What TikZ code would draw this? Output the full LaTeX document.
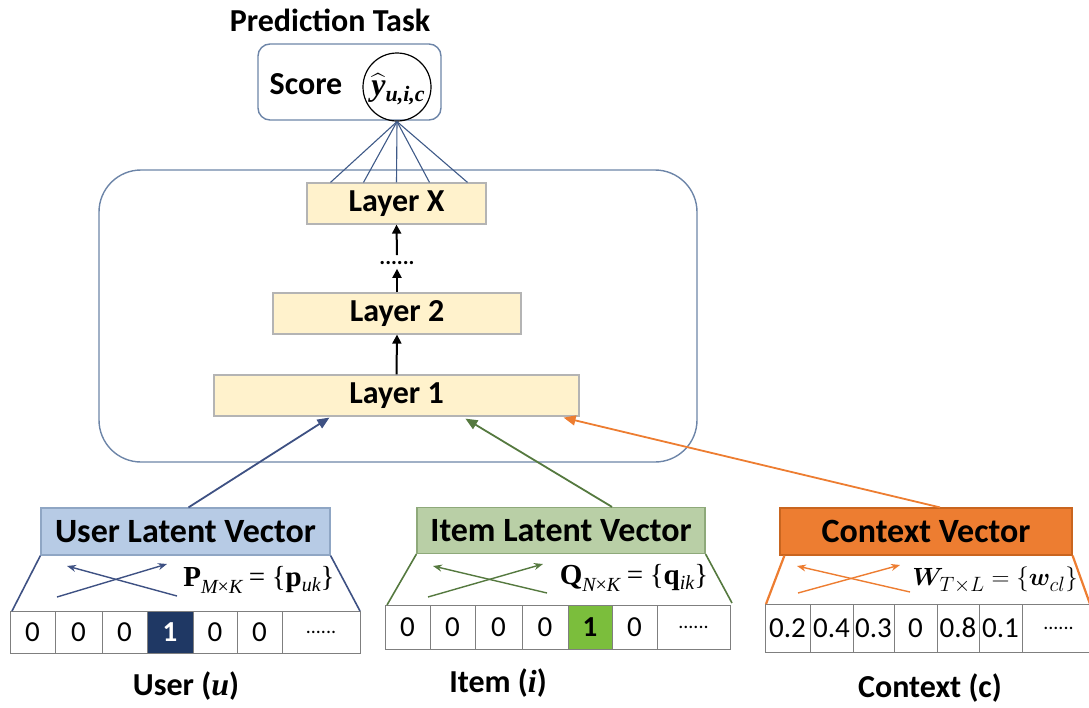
\documentclass[tikz,border=0pt]{standalone}
\usepackage{amsmath,bm}
\usepackage[no-math]{fontspec}
\setmainfont{Carlito}
\newfontfamily\serifface{Liberation Serif}
\usetikzlibrary{calc,arrows.meta}

\definecolor{frameblue}{HTML}{6D85A8}
\definecolor{fanblue}{HTML}{3F5A88}
\definecolor{layerfill}{HTML}{FFF2CC}
\definecolor{layerdraw}{HTML}{B4B4B4}
\definecolor{userfill}{HTML}{B7CBE5}
\definecolor{userdraw}{HTML}{8FA6C4}
\definecolor{userdark}{HTML}{3E5183}
\definecolor{navycell}{HTML}{1F3864}
\definecolor{itemfill}{HTML}{B9CFA6}
\definecolor{itemdraw}{HTML}{8EA97A}
\definecolor{itemdark}{HTML}{55793F}
\definecolor{greencell}{HTML}{7BBE3C}
\definecolor{ctxorange}{HTML}{ED7D31}
\definecolor{ctxdraw}{HTML}{C9651F}
\definecolor{cellgray}{HTML}{7F7F7F}

% serif pieces of the formulas
\newcommand{\serB}[1]{{\serifface\bfseries #1}}
\newcommand{\serI}[1]{{\serifface\itshape #1}}
\newcommand{\serBI}[1]{{\serifface\bfseries\itshape #1}}

\tikzset{
  big/.style={font=\fontsize{32}{32}\selectfont\bfseries},
  veclabel/.style={font=\fontsize{34}{34}\selectfont\bfseries},
  layerbox/.style={draw=layerdraw, fill=layerfill, line width=1.2pt, minimum height=41pt, inner sep=0pt, big},
  vecbox/.style={line width=1.2pt, minimum height=47pt, minimum width=289pt, inner sep=0pt, veclabel},
  cellbase/.style={draw=cellgray, line width=1pt, inner sep=0pt, font=\fontsize{29}{29}\selectfont},
  cellplain/.style={cellbase},
  cellnavy/.style={cellbase, fill=navycell, text=white, font=\fontsize{29}{29}\selectfont\bfseries},
  cellgreen/.style={cellbase, fill=greencell, font=\fontsize{29}{29}\selectfont\bfseries},
  upar/.style={line width=2pt, -{Triangle[length=9pt,width=9pt]}},
  inar/.style={line width=1.8pt, -{Triangle[length=12pt,width=10pt]}},
  crossar/.style={line width=1.4pt, -{Stealth[length=9pt,width=7pt]}},
  fan/.style={draw=fanblue, line width=1.1pt},
  formula/.style={font=\fontsize{29}{29}\selectfont, inner sep=0pt},
}

\begin{document}
\begin{tikzpicture}[x=1pt,y=-1pt]
\useasboundingbox (0,0) rectangle (1089,707);

% prediction part
\node[big] (task) at (330,20) {Prediction Task};
\draw[frameblue, line width=1.4pt, rounded corners=12pt] (258,44) rectangle (441,120);
\node[big, inner sep=0pt] (score) at (306,84) {Score};
\node[draw=black, line width=1.2pt, circle, minimum size=68pt, inner sep=0pt] (yhat) at (397,87) {};
\node[inner sep=0pt, font=\fontsize{32}{32}\selectfont] (yval) at (398,89)
  {$\widehat{\text{\serBI{y}}}$\raisebox{-6pt}{\fontsize{22}{22}\selectfont\serBI{u,i,c}}};

% hidden layers
\draw[frameblue, line width=1.4pt, rounded corners=42pt] (99,170) rectangle (697,462);
\node[layerbox, minimum width=179pt] (lx) at (396.5,203.5) {Layer X};
\node[layerbox, minimum width=248pt] (l2) at (397,313.5) {Layer 2};
\node[layerbox, minimum width=365pt] (l1) at (396.5,395.5) {Layer 1};
\node[font=\fontsize{22}{22}\selectfont\bfseries, inner sep=0pt] (dots) at (397,263) {......};

\draw[upar] (l1.north) -- (l2.south);
\draw[upar] (l2.north) -- ($(dots.south)+(0,4)$);
\draw[upar] ($(dots.north)+(0,-6)$) -- (lx.south);

\foreach \dx in {-66,-33,0,33,71}
  \draw[fan] (yhat.south) -- ($(lx.north)+(\dx,0)$);

% user input
\node[vecbox, draw=userdraw, fill=userfill] (user) at (185.5,531.5) {User Latent Vector};
\foreach \a/\b/\t/\s in {10/55/0/cellplain, 55/102/0/cellplain, 102/147/0/cellplain,
    147/193/1/cellnavy, 193/237/0/cellplain, 237/282/0/cellplain,
    282/360/{\fontsize{20}{20}\selectfont ......}/cellplain}
  \node[\s, minimum width={(\b-\a)*1pt}, minimum height=42pt] at ({(\a+\b)/2},632) {\t};
\draw[userdark, line width=1.6pt] (user.south west) -- (12,611);
\draw[userdark, line width=1.6pt] (user.south east) -- (360,611);
\draw[crossar, userdark] (57,597) -- (167,564);
\draw[crossar, userdark] (177,596) -- (67,566);
\node[formula] (pform) at (259,580) {\serB{P}\raisebox{-7pt}{\fontsize{20}{20}\selectfont\serI{M}{\serifface×}\serI{K}} {\serifface=} {\serifface\{}\serB{p}\raisebox{-5pt}{\fontsize{20}{20}\selectfont\serI{uk}}{\serifface\}}};
\node[big] (ulab) at (186,686) {User (\serBI{u})};

% item input
\node[vecbox, draw=itemdraw, fill=itemfill, minimum width=288pt, minimum height=46pt] (item) at (561,530.5) {Item Latent Vector};
\foreach \a/\b/\t/\s in {385/430/0/cellplain, 430/475/0/cellplain, 475/522/0/cellplain,
    522/568/0/cellplain, 568/612/1/cellgreen, 612/657/0/cellplain,
    657/730/{\fontsize{20}{20}\selectfont ......}/cellplain}
  \node[\s, minimum width={(\b-\a)*1pt}, minimum height=44pt] at ({(\a+\b)/2},627) {\t};
\draw[itemdark, line width=1.6pt] (item.south west) -- (387,605);
\draw[itemdark, line width=1.6pt] (item.south east) -- (732,603);
\draw[crossar, itemdark] (428,597) -- (543,564);
\draw[crossar, itemdark] (547,593) -- (433,566);
\node[formula] (qform) at (634,578) {\serB{Q}\raisebox{-7pt}{\fontsize{20}{20}\selectfont\serI{N}{\serifface×}\serI{K}} {\serifface=} {\serifface\{}\serB{q}\raisebox{-5pt}{\fontsize{20}{20}\selectfont\serI{ik}}{\serifface\}}};
\node[big] (ilab) at (498,683) {Item (\serBI{i})};

% context input
\node[vecbox, draw=ctxdraw, fill=ctxorange, minimum width=292pt] (ctx) at (926,531.5) {Context Vector};
\foreach \a/\b/\t/\s in {765/810/0.2/cellplain, 810/853/0.4/cellplain, 853/894/0.3/cellplain,
    894/937/0/cellplain, 937/979/0.8/cellplain, 979/1022/0.1/cellplain,
    1022/1095/{\fontsize{20}{20}\selectfont ......\hspace{6pt}}/cellplain}
  \node[\s, minimum width={(\b-\a)*1pt}, minimum height=48pt] at ({(\a+\b)/2},628) {\t};
\draw[ctxorange, line width=2.2pt] ($(ctx.south west)+(5,0)$) -- (766,604);
\draw[ctxorange, line width=2.2pt] (ctx.south east) -- (1090,604);
\draw[crossar, ctxorange] (798,593) -- (900,565);
\draw[crossar, ctxorange] (910,592) -- (797,566);
\node[formula] (wform) at (995,580) {$\bm{W}_{T\times L}=\{\bm{w}_{cl}\}$};
\node[big] (clab) at (930,688) {Context (c)};

% inputs into the first layer
\draw[inar, userdark] ($(user.north)+(3,0)$) -- ($(l1.south west)+(116,1)$);
\draw[inar, itemdark] ($(item.north)+(51,0)$) -- ($(l1.south west)+(252,2)$);
\draw[inar, ctxorange] ($(ctx.north)+(14,0)$) -- ($(l1.south east)+(-16,1)$);
\end{tikzpicture}
\end{document}
